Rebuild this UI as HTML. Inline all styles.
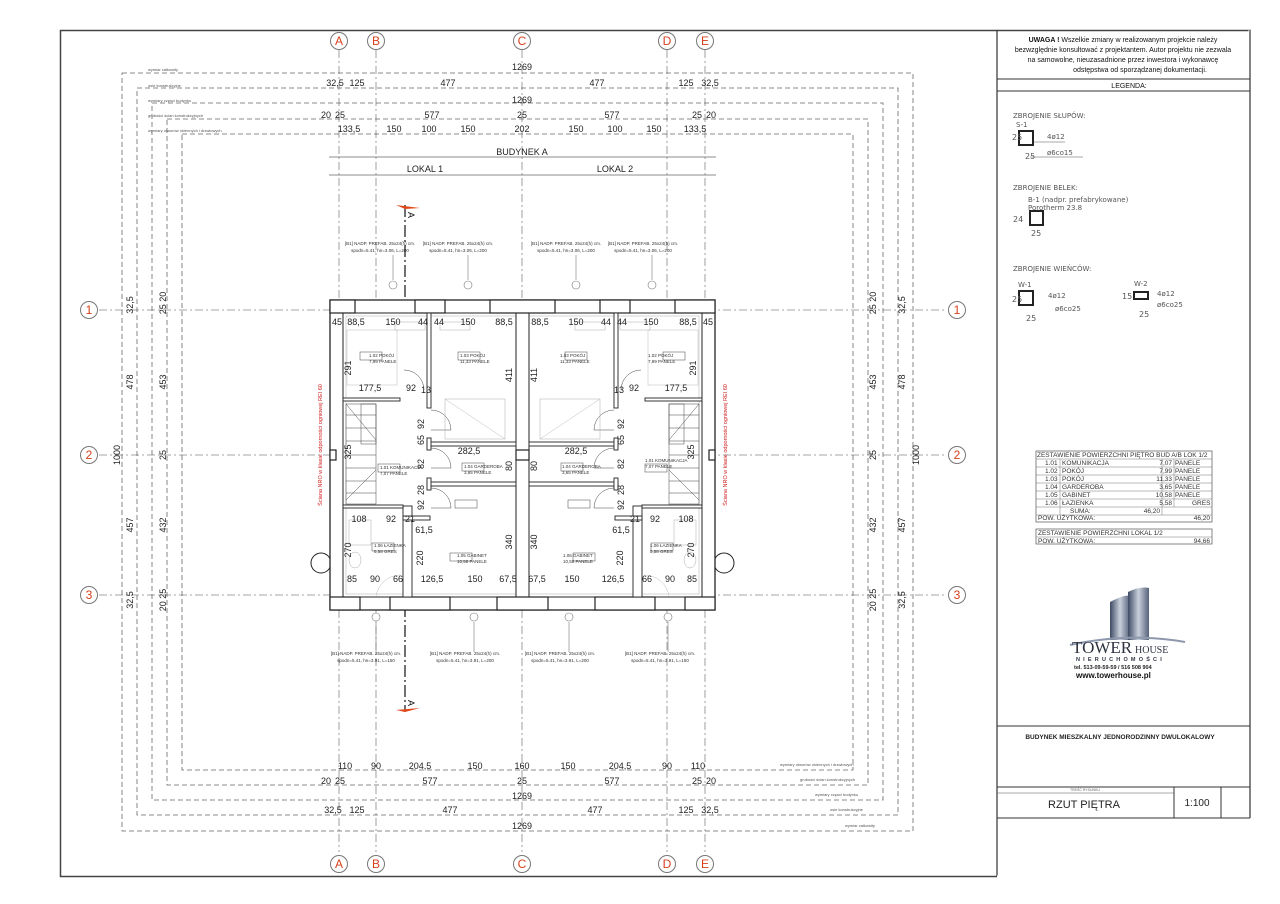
<!DOCTYPE html>
<html><head><meta charset="utf-8"><style>
html,body{margin:0;padding:0;background:#fff;}
svg{display:block;font-family:"Liberation Sans",sans-serif;}
.d{stroke:#666;stroke-width:0.8;stroke-dasharray:5,3;fill:none}
.g{stroke:#888;stroke-width:0.8;stroke-dasharray:8,3,2,3;fill:none}
.t{font-size:9px;fill:#222;text-anchor:middle}
.s{font-size:4.5px;fill:#333}
.w{stroke:#222;stroke-width:1;fill:none}
.wf{stroke:#222;stroke-width:0.8;fill:#fff}
.ax{font-size:12px;fill:#d8401c;text-anchor:middle}
.tb{font-size:7px;fill:#111}
</style></head><body>
<svg width="1280" height="904" viewBox="0 0 1280 904" xmlns="http://www.w3.org/2000/svg">
<!-- frame -->
<rect x="60.5" y="30.5" width="1190" height="846" fill="none" stroke="#444" stroke-width="1.5"/>
<line x1="997" y1="30" x2="997" y2="877" stroke="#333" stroke-width="1.2"/>
<line x1="1250" y1="30" x2="1250" y2="877" stroke="#fff" stroke-width="3"/>
<line x1="1250" y1="30" x2="1250" y2="818" stroke="#333" stroke-width="1.2"/>
<line x1="997" y1="877" x2="1252" y2="877" stroke="#fff" stroke-width="3"/>
<!-- title block -->
<text x="1123" y="42" class="tb" text-anchor="middle"><tspan font-weight="bold">UWAGA !</tspan> Wszelkie zmiany w realizowanym projekcie należy</text>
<text x="1123" y="52" class="tb" text-anchor="middle">bezwzględnie konsultować z projektantem. Autor projektu nie zezwala</text>
<text x="1123" y="62" class="tb" text-anchor="middle">na samowolne, nieuzasadnione przez inwestora i wykonawcę</text>
<text x="1140" y="72" class="tb" text-anchor="middle">odstępstwa od sporządzanej dokumentacji.</text>
<line x1="997" y1="79" x2="1250" y2="79" stroke="#333"/>
<line x1="997" y1="91" x2="1250" y2="91" stroke="#333"/>
<text x="1129" y="88" class="tb" text-anchor="middle" font-size="6.5">LEGENDA:</text>
<g font-family="'DejaVu Sans',sans-serif" font-size="7" fill="#555">
<text x="1013" y="118">ZBROJENIE SŁUPÓW:</text><text x="1016" y="127">S-1</text>
<rect x="1019" y="131" width="14" height="14" fill="none" stroke="#222" stroke-width="2"/>
<text x="1047" y="139">4ø12</text><line x1="1033" y1="142" x2="1065" y2="142" stroke="#555" stroke-width="0.5"/>
<text x="1047" y="155">ø6co15</text><line x1="1030" y1="157" x2="1083" y2="157" stroke="#555" stroke-width="0.5"/>
<text x="1025" y="159" font-size="8">25</text><text x="1012" y="140" font-size="8">25</text>
<text x="1013" y="190">ZBROJENIE BELEK:</text>
<text x="1028" y="202">B-1 (nadpr. prefabrykowane)</text><text x="1028" y="210">Porotherm 23.8</text>
<rect x="1030" y="211" width="13" height="14" fill="none" stroke="#222" stroke-width="2"/>
<text x="1031" y="236" font-size="8">25</text><text x="1013" y="222" font-size="8">24</text>
<text x="1013" y="271">ZBROJENIE WIEŃCÓW:</text>
<text x="1018" y="287">W-1</text><rect x="1019" y="291" width="14" height="14" fill="none" stroke="#222" stroke-width="2"/>
<text x="1048" y="298">4ø12</text><text x="1055" y="311">ø6co25</text>
<text x="1026" y="321" font-size="8">25</text><text x="1012" y="302" font-size="8">25</text>
<text x="1134" y="286">W-2</text><rect x="1134" y="292" width="14" height="7" fill="none" stroke="#222" stroke-width="2"/>
<text x="1157" y="296">4ø12</text><text x="1157" y="307">ø6co25</text>
<text x="1139" y="317" font-size="8">25</text><text x="1122" y="299" font-size="8">15</text>
</g>
<!-- table -->
<g font-size="6.5" fill="#333" stroke="none">
<rect x="1036" y="451" width="176" height="71" fill="none" stroke="#555" stroke-width="0.7"/>
<g stroke="#777" stroke-width="0.5">
<line x1="1036" y1="459" x2="1212" y2="459"/><line x1="1036" y1="467" x2="1212" y2="467"/><line x1="1036" y1="475" x2="1212" y2="475"/><line x1="1036" y1="483" x2="1212" y2="483"/><line x1="1036" y1="491" x2="1212" y2="491"/><line x1="1036" y1="499" x2="1212" y2="499"/><line x1="1036" y1="507" x2="1212" y2="507"/><line x1="1036" y1="515" x2="1212" y2="515"/>
<line x1="1060" y1="459" x2="1060" y2="515"/><line x1="1162" y1="459" x2="1162" y2="515"/><line x1="1174" y1="459" x2="1174" y2="507"/>
</g>
<text x="1037" y="457">ZESTAWIENIE POWIERZCHNI PIĘTRO BUD A/B LOK 1/2</text>
<text x="1045" y="465">1.01</text><text x="1062" y="465">KOMUNIKACJA</text><text x="1172" y="465" text-anchor="end">7,07</text><text x="1175" y="465">PANELE</text>
<text x="1045" y="473">1.02</text><text x="1062" y="473">POKÓJ</text><text x="1172" y="473" text-anchor="end">7,99</text><text x="1175" y="473">PANELE</text>
<text x="1045" y="481">1.03</text><text x="1062" y="481">POKÓJ</text><text x="1172" y="481" text-anchor="end">11,33</text><text x="1175" y="481">PANELE</text>
<text x="1045" y="489">1.04</text><text x="1062" y="489">GARDEROBA</text><text x="1172" y="489" text-anchor="end">3,65</text><text x="1175" y="489">PANELE</text>
<text x="1045" y="497">1.05</text><text x="1062" y="497">GABINET</text><text x="1172" y="497" text-anchor="end">10,58</text><text x="1175" y="497">PANELE</text>
<text x="1045" y="505">1.06</text><text x="1062" y="505">ŁAZIENKA</text><text x="1172" y="505" text-anchor="end">5,58</text><text x="1192" y="505">GRES</text>
<text x="1070" y="513">SUMA:</text><text x="1160" y="513" text-anchor="end">46,20</text>
<text x="1038" y="520">POW. UŻYTKOWA:</text><text x="1210" y="520" text-anchor="end">46,20</text>
<rect x="1036" y="529" width="176" height="15" fill="none" stroke="#555" stroke-width="0.7"/>
<line x1="1036" y1="537" x2="1212" y2="537" stroke="#777" stroke-width="0.5"/>
<text x="1038" y="535">ZESTAWIENIE POWIERZCHNI  LOKAL 1/2</text>
<text x="1038" y="543">POW. UŻYTKOWA:</text><text x="1210" y="543" text-anchor="end">94,66</text>
</g>
<!-- logo -->
<defs><linearGradient id="lg" x1="0" x2="1"><stop offset="0" stop-color="#3d4a63"/><stop offset="0.5" stop-color="#c9d0dc"/><stop offset="1" stop-color="#56627a"/></linearGradient></defs>
<path d="M1110 602 Q1125 594 1130 596 L1130 640 L1110 640 Z" fill="url(#lg)"/>
<path d="M1128 592 Q1140 586 1149 588 L1149 640 L1128 640 Z" fill="url(#lg)"/>
<path d="M1070 645 Q1130 632 1185 642" stroke="#8d98ad" stroke-width="2" fill="none"/>
<text x="1072" y="653" font-family="'Liberation Serif',serif" font-size="17" fill="#2e3340">TOWER</text>
<text x="1135" y="653" font-family="'Liberation Serif',serif" font-size="10" fill="#2e3340">HOUSE</text>
<text x="1076" y="661" font-size="5.5" fill="#2e3340" letter-spacing="3.2" font-weight="bold">NIERUCHOMOŚCI</text>
<text x="1074" y="669" font-size="5.5" fill="#222" font-weight="bold">tel. 513-09-59-59  /  516 508 904</text>
<text x="1076" y="678" font-size="8" fill="#111" font-weight="bold">www.towerhouse.pl</text>
<line x1="997" y1="726" x2="1250" y2="726" stroke="#333"/>
<text x="1120" y="739" font-size="6.5" font-weight="bold" fill="#222" text-anchor="middle">BUDYNEK MIESZKALNY JEDNORODZINNY DWULOKALOWY</text>
<line x1="997" y1="787" x2="1250" y2="787" stroke="#333"/>
<line x1="997" y1="793" x2="1174" y2="793" stroke="#555" stroke-width="0.6"/>
<text x="1070" y="791" font-size="3.5" fill="#666">TREŚĆ RYSUNKU</text>
<text x="1084" y="808" font-size="11" fill="#222" text-anchor="middle">RZUT PIĘTRA</text>
<line x1="1174" y1="787" x2="1174" y2="818" stroke="#333"/><line x1="1221" y1="787" x2="1221" y2="818" stroke="#333"/>
<text x="1197" y="806" font-size="10" fill="#222" text-anchor="middle">1:100</text>
<line x1="997" y1="818" x2="1250" y2="818" stroke="#333"/>

<!-- grid axes -->
<g class="g">
<line x1="339" y1="50" x2="339" y2="852"/><line x1="376" y1="50" x2="376" y2="852"/><line x1="522" y1="50" x2="522" y2="852"/><line x1="667" y1="50" x2="667" y2="852"/><line x1="705" y1="50" x2="705" y2="852"/>
<line x1="99" y1="310" x2="947" y2="310"/><line x1="99" y1="455" x2="947" y2="455"/><line x1="99" y1="595" x2="947" y2="595"/>
</g>
<g fill="#fff" stroke="#777" stroke-width="1">
<circle cx="339" cy="41" r="8.5"/><circle cx="376" cy="41" r="8.5"/><circle cx="522" cy="41" r="8.5"/><circle cx="667" cy="41" r="8.5"/><circle cx="705" cy="41" r="8.5"/>
<circle cx="339" cy="864" r="8.5"/><circle cx="376" cy="864" r="8.5"/><circle cx="522" cy="864" r="8.5"/><circle cx="667" cy="864" r="8.5"/><circle cx="705" cy="864" r="8.5"/>
<circle cx="89" cy="310" r="8.5"/><circle cx="89" cy="455" r="8.5"/><circle cx="89" cy="595" r="8.5"/>
<circle cx="957" cy="310" r="8.5"/><circle cx="957" cy="455" r="8.5"/><circle cx="957" cy="595" r="8.5"/>
</g>
<g class="ax">
<text x="339" y="45">A</text><text x="376" y="45">B</text><text x="522" y="45">C</text><text x="667" y="45">D</text><text x="705" y="45">E</text>
<text x="339" y="868">A</text><text x="376" y="868">B</text><text x="522" y="868">C</text><text x="667" y="868">D</text><text x="705" y="868">E</text>
<text x="89" y="314">1</text><text x="89" y="459">2</text><text x="89" y="599">3</text>
<text x="957" y="314">1</text><text x="957" y="459">2</text><text x="957" y="599">3</text>
</g>
<!-- dashed dim rectangles -->
<g class="d" stroke-dasharray="4,2.5">
<rect x="122" y="73" width="791" height="758"/>
<rect x="137" y="88" width="761" height="727"/>
<rect x="152" y="103" width="731" height="697"/>
<rect x="167" y="119" width="701" height="666"/>
<rect x="182" y="134" width="671" height="636"/>
</g>
<g stroke="#666" stroke-width="0.7"><line x1="329" y1="157" x2="716" y2="157"/><line x1="329" y1="175" x2="716" y2="175"/></g>
<g font-size="4" fill="#555">
<text x="148" y="71">wymiar całkowity</text><text x="148" y="87">osie konstrukcyjne</text><text x="148" y="102">wymiary części budynku</text><text x="148" y="117">grubości ścian konstrukcyjnych</text><text x="148" y="132">wymiary otworów okiennych i drzwiowych</text>
<text x="780" y="766">wymiary otworów okiennych i drzwiowych</text><text x="800" y="781">grubości ścian konstrukcyjnych</text><text x="815" y="796">wymiary części budynku</text><text x="830" y="811">osie konstrukcyjne</text><text x="845" y="827">wymiar całkowity</text>
</g>
<!-- top dims -->
<g class="t">
<text x="522" y="70">1269</text>
<text x="335" y="86">32,5</text><text x="357" y="86">125</text><text x="448" y="86">477</text><text x="597" y="86">477</text><text x="686" y="86">125</text><text x="710" y="86">32,5</text>
<text x="522" y="103">1269</text>
<text x="326" y="118">20</text><text x="340" y="118">25</text><text x="432" y="118">577</text><text x="522" y="118">25</text><text x="612" y="118">577</text><text x="697" y="118">25</text><text x="711" y="118">20</text>
<text x="349" y="132">133,5</text><text x="394" y="132">150</text><text x="429" y="132">100</text><text x="468" y="132">150</text><text x="522" y="132">202</text><text x="576" y="132">150</text><text x="615" y="132">100</text><text x="654" y="132">150</text><text x="695" y="132">133,5</text>
<text x="522" y="155">BUDYNEK A</text><text x="425" y="172">LOKAL 1</text><text x="615" y="172">LOKAL 2</text>
<!-- bottom dims -->
<text x="345" y="769">110</text><text x="376" y="769">90</text><text x="420" y="769">204,5</text><text x="475" y="769">150</text><text x="522" y="769">160</text><text x="568" y="769">150</text><text x="620" y="769">204,5</text><text x="667" y="769">90</text><text x="698" y="769">110</text>
<text x="326" y="784">20</text><text x="340" y="784">25</text><text x="430" y="784">577</text><text x="522" y="784">25</text><text x="612" y="784">577</text><text x="697" y="784">25</text><text x="711" y="784">20</text>
<text x="522" y="799">1269</text>
<text x="333" y="813">32,5</text><text x="357" y="813">125</text><text x="450" y="813">477</text><text x="595" y="813">477</text><text x="686" y="813">125</text><text x="710" y="813">32,5</text>
<text x="522" y="829">1269</text>
</g>
<!-- vertical dims -->
<g class="t">
<text transform="translate(133,305) rotate(-90)">32,5</text><text transform="translate(133,382) rotate(-90)">478</text><text transform="translate(133,525) rotate(-90)">457</text><text transform="translate(133,600) rotate(-90)">32,5</text>
<text transform="translate(120,455) rotate(-90)">1000</text>
<text transform="translate(166,303) rotate(-90)">25 20</text><text transform="translate(166,382) rotate(-90)">453</text><text transform="translate(166,455) rotate(-90)">25</text><text transform="translate(166,525) rotate(-90)">432</text><text transform="translate(166,600) rotate(-90)">20 25</text>
<text transform="translate(876,303) rotate(-90)">25 20</text><text transform="translate(876,382) rotate(-90)">453</text><text transform="translate(876,455) rotate(-90)">25</text><text transform="translate(876,525) rotate(-90)">432</text><text transform="translate(876,600) rotate(-90)">20 25</text>
<text transform="translate(905,305) rotate(-90)">32,5</text><text transform="translate(905,382) rotate(-90)">478</text><text transform="translate(905,525) rotate(-90)">457</text><text transform="translate(905,600) rotate(-90)">32,5</text>
<text transform="translate(919,455) rotate(-90)">1000</text>
</g>
<!-- beam labels -->
<g font-size="4.5" fill="#333" text-anchor="middle">
<text x="380" y="245">[B1] NADP. PREFAB. 25x24(h) cm.</text><text x="380" y="252">spodn=5.41, hn=3.06, L=200</text>
<text x="458" y="245">[B1] NADP. PREFAB. 25x24(h) cm.</text><text x="458" y="252">spodn=5.41, hn=3.06, L=200</text>
<text x="566" y="245">[B1] NADP. PREFAB. 25x24(h) cm.</text><text x="566" y="252">spodn=5.41, hn=3.06, L=200</text>
<text x="643" y="245">[B1] NADP. PREFAB. 25x24(h) cm.</text><text x="643" y="252">spodn=5.41, hn=3.06, L=200</text>
<text x="366" y="655">[B1] NADP. PREFAB. 25x24(h) cm.</text><text x="366" y="662">spodn=5.41, hn=3.91, L=150</text>
<text x="465" y="655">[B1] NADP. PREFAB. 25x24(h) cm.</text><text x="465" y="662">spodn=5.41, hn=3.91, L=200</text>
<text x="560" y="655">[B1] NADP. PREFAB. 25x24(h) cm.</text><text x="560" y="662">spodn=5.41, hn=3.91, L=200</text>
<text x="660" y="655">[B1] NADP. PREFAB. 25x24(h) cm.</text><text x="660" y="662">spodn=5.41, hn=3.91, L=150</text>
</g>
<g stroke="#777" stroke-width="0.6" fill="#fff">
<line x1="393" y1="255" x2="393" y2="280"/><line x1="468" y1="255" x2="468" y2="280"/><line x1="576" y1="255" x2="576" y2="280"/><line x1="652" y1="255" x2="652" y2="280"/>
<circle cx="393" cy="285" r="4"/><circle cx="468" cy="285" r="4"/><circle cx="576" cy="285" r="4"/><circle cx="652" cy="285" r="4"/>
<line x1="376" y1="622" x2="376" y2="652"/><line x1="474" y1="622" x2="474" y2="652"/><line x1="569" y1="622" x2="569" y2="652"/><line x1="668" y1="622" x2="668" y2="652"/>
<circle cx="376" cy="617" r="4"/><circle cx="474" cy="617" r="4"/><circle cx="569" cy="617" r="4"/><circle cx="668" cy="617" r="4"/>
</g>
<!-- section A -->
<line x1="405" y1="205" x2="405" y2="712" stroke="#222" stroke-width="1.3" stroke-dasharray="12,3,2,3"/>
<path d="M396 205 L420 208 L405 209 Z" fill="#e04818"/>
<path d="M396 710 L420 708 L405 712 Z" fill="#e04818"/>
<text transform="translate(408,212) rotate(90)" font-size="9" fill="#111">A</text>
<text transform="translate(408,700) rotate(90)" font-size="9" fill="#111">A</text>
<!-- red wall labels -->
<text transform="translate(322,445) rotate(-90)" font-size="5.5" fill="#d02020" text-anchor="middle">Ściana NRO w klasie odporności ogniowej REI 60</text>
<text transform="translate(727,445) rotate(-90)" font-size="5.5" fill="#d02020" text-anchor="middle">Ściana NRO w klasie odporności ogniowej REI 60</text>
<!-- bumps -->
<circle cx="321" cy="563" r="10" fill="#fff" stroke="#222" stroke-width="1"/>
<circle cx="724" cy="563" r="10" fill="#fff" stroke="#222" stroke-width="1"/>
<!-- building walls -->
<rect x="330" y="300" width="385" height="310" fill="#fff" stroke="#222" stroke-width="1.3"/>
<rect x="343" y="313" width="359" height="284" fill="#fff" stroke="#222" stroke-width="1"/>
<rect x="346" y="316" width="353" height="278" fill="none" stroke="#aaa" stroke-width="0.5"/>
<rect x="516" y="313" width="13" height="284" fill="#fff" stroke="#222" stroke-width="1"/>
<!-- window piers top/bottom -->
<g fill="#fff" stroke="#222" stroke-width="1.2">
<rect x="330" y="300" width="25" height="13"/><rect x="415" y="300" width="30" height="13"/><rect x="490" y="300" width="65" height="13"/><rect x="600" y="300" width="30" height="13"/><rect x="675" y="300" width="40" height="13"/>
<rect x="330" y="597" width="30" height="13"/><rect x="390" y="597" width="60" height="13"/><rect x="497" y="597" width="51" height="13"/><rect x="595" y="597" width="60" height="13"/><rect x="685" y="597" width="30" height="13"/>
<rect x="330" y="450" width="6" height="10"/><rect x="709" y="450" width="6" height="10"/><rect x="516" y="450" width="13" height="10"/>
</g>
<!-- interior left unit + mirrored -->
<g id="u">
<g fill="#fff" stroke="#222" stroke-width="0.9">
<rect x="427" y="313" width="4" height="95"/>
<rect x="427" y="442" width="89" height="4"/>
<rect x="427" y="482" width="89" height="4"/>
<rect x="427" y="438" width="4" height="12"/><rect x="427" y="478" width="4" height="12"/>
<rect x="403" y="506" width="9" height="91"/>
<rect x="403" y="516" width="27" height="4"/>
<rect x="343" y="398" width="57" height="3"/>
<rect x="343" y="505" width="60" height="3"/>
</g>
<g stroke="#444" stroke-width="0.5" fill="none">
<rect x="346" y="404" width="30" height="100"/>
<rect x="361" y="404" width="15" height="40"/>
<line x1="346" y1="415" x2="376" y2="415"/><line x1="346" y1="428" x2="376" y2="428"/><line x1="346" y1="441" x2="376" y2="441"/><line x1="346" y1="455" x2="376" y2="455"/><line x1="346" y1="468" x2="376" y2="468"/><line x1="346" y1="481" x2="376" y2="481"/><line x1="346" y1="493" x2="376" y2="493"/>
<line x1="346" y1="404" x2="376" y2="440"/><line x1="346" y1="500" x2="376" y2="470"/>
<path d="M431 410 A20 20 0 0 1 451 430 L431 430"/><path d="M431 448 A20 20 0 0 1 451 468 L431 468"/><path d="M431 488 A20 20 0 0 1 451 508 L431 508"/>
<path d="M404 370 A20 20 0 0 1 424 390"/>
<rect x="445" y="399" width="60" height="40" stroke="#aaa"/><line x1="445" y1="399" x2="505" y2="439" stroke="#bbb"/>
<rect x="347" y="330" width="50" height="55" stroke="#bbb"/>
<rect x="440" y="322" width="30" height="8" stroke="#aaa"/><rect x="395" y="322" width="30" height="8" stroke="#aaa"/>
<rect x="349" y="520" width="22" height="25" stroke="#aaa"/><ellipse cx="355" cy="560" rx="6" ry="8" stroke="#aaa"/>
<rect x="360" y="352" width="22" height="8"/><rect x="458" y="352" width="22" height="8"/><rect x="455" y="500" width="22" height="8"/><rect x="450" y="553" width="22" height="8"/><rect x="378" y="464" width="22" height="8"/><rect x="372" y="543" width="22" height="8"/><rect x="462" y="463" width="22" height="8"/>
<path d="M376 596 A25 25 0 0 1 400 575" stroke="#bbb"/>
</g>
</g>
<use href="#u" transform="translate(1045,0) scale(-1,1)"/>
<!-- room labels -->
<g class="s">
<text x="369" y="357">1.02 POKÓJ</text><text x="369" y="363">7,99 PANELE</text>
<text x="460" y="357">1.03 POKÓJ</text><text x="460" y="363">11,33 PANELE</text>
<text x="380" y="469">1.01 KOMUNIKACJA</text><text x="380" y="475">7,07 PANELE</text>
<text x="464" y="468">1.04 GARDEROBA</text><text x="464" y="474">3,65 PANELE</text>
<text x="374" y="547">1.06 ŁAZIENKA</text><text x="374" y="553">5,58 GRES</text>
<text x="457" y="557">1.05 GABINET</text><text x="457" y="563">10,58 PANELE</text>
<text x="648" y="357">1.02 POKÓJ</text><text x="648" y="363">7,99 PANELE</text>
<text x="560" y="357">1.03 POKÓJ</text><text x="560" y="363">11,33 PANELE</text>
<text x="645" y="462">1.01 KOMUNIKACJA</text><text x="645" y="468">7,07 PANELE</text>
<text x="562" y="468">1.04 GARDEROBA</text><text x="562" y="474">3,65 PANELE</text>
<text x="650" y="547">1.06 ŁAZIENKA</text><text x="650" y="553">5,58 GRES</text>
<text x="563" y="557">1.05 GABINET</text><text x="563" y="563">10,58 PANELE</text>
</g>
<!-- plan dims -->
<g class="t" font-size="8.5">
<text x="337" y="325">45</text><text x="356" y="325">88,5</text><text x="393" y="325">150</text><text x="423" y="325">44</text><text x="439" y="325">44</text><text x="468" y="325">150</text><text x="504" y="325">88,5</text>
<text x="540" y="325">88,5</text><text x="576" y="325">150</text><text x="606" y="325">44</text><text x="622" y="325">44</text><text x="651" y="325">150</text><text x="688" y="325">88,5</text><text x="708" y="325">45</text>
<text x="370" y="391">177,5</text><text x="411" y="391">92</text><text x="426" y="393">13</text>
<text x="676" y="391">177,5</text><text x="634" y="391">92</text><text x="619" y="393">13</text>
<text x="469" y="454">282,5</text><text x="576" y="454">282,5</text>
<text x="359" y="522">108</text><text x="391" y="522">92</text><text x="410" y="522">21</text><text x="424" y="533">61,5</text>
<text x="686" y="522">108</text><text x="655" y="522">92</text><text x="635" y="522">21</text><text x="621" y="533">61,5</text>
<text x="352" y="582">85</text><text x="375" y="582">90</text><text x="398" y="582">66</text><text x="432" y="582">126,5</text><text x="475" y="582">150</text><text x="508" y="582">67,5</text>
<text x="537" y="582">67,5</text><text x="572" y="582">150</text><text x="613" y="582">126,5</text><text x="647" y="582">66</text><text x="670" y="582">90</text><text x="692" y="582">85</text>
<text transform="translate(351,368) rotate(-90)">291</text><text transform="translate(512,375) rotate(-90)">411</text>
<text transform="translate(696,368) rotate(-90)">291</text><text transform="translate(537,375) rotate(-90)">411</text>
<text transform="translate(424,424) rotate(-90)">92</text><text transform="translate(424,464) rotate(-90)">82</text><text transform="translate(424,440) rotate(-90)">65</text><text transform="translate(424,490) rotate(-90)">28</text><text transform="translate(424,505) rotate(-90)">92</text>
<text transform="translate(624,424) rotate(-90)">92</text><text transform="translate(624,464) rotate(-90)">82</text><text transform="translate(624,440) rotate(-90)">65</text><text transform="translate(624,490) rotate(-90)">28</text><text transform="translate(624,505) rotate(-90)">92</text>
<text transform="translate(512,466) rotate(-90)">80</text><text transform="translate(537,466) rotate(-90)">80</text>
<text transform="translate(351,452) rotate(-90)">325</text><text transform="translate(694,452) rotate(-90)">325</text>
<text transform="translate(351,550) rotate(-90)">270</text><text transform="translate(694,550) rotate(-90)">270</text>
<text transform="translate(423,558) rotate(-90)">220</text><text transform="translate(623,558) rotate(-90)">220</text>
<text transform="translate(512,542) rotate(-90)">340</text><text transform="translate(537,542) rotate(-90)">340</text>
</g>
</svg>
</body></html>
